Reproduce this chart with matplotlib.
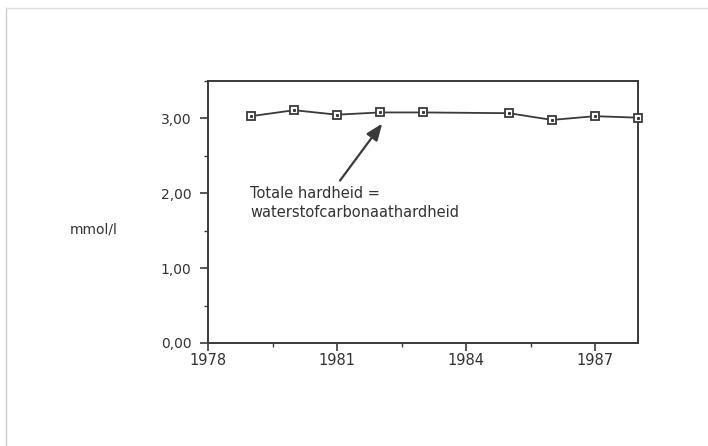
import matplotlib
matplotlib.use("Agg")
import matplotlib.pyplot as plt
from matplotlib.ticker import FuncFormatter, MultipleLocator, FixedLocator
from matplotlib.lines import Line2D

years = [1979, 1980, 1981, 1982, 1983, 1985, 1986, 1987, 1988]
hardness = [3.03, 3.11, 3.05, 3.08, 3.08, 3.07, 2.98, 3.03, 3.01]
x_ticks = [1978, 1981, 1984, 1987]
x_minor = [1979.5, 1982.5, 1985.5]
y_ticks = [0.0, 1.0, 2.0, 3.0]
ylabel = "mmol/l"
note = "Totale hardheid =\nwaterstofcarbonaathardheid"

plt.rcParams['font.family'] = ['DejaVu Sans']
dark = '#3a3a3a'
txt = '#333333'

fig = plt.figure(figsize=(7.08, 4.46), dpi=100)
ax = fig.add_axes([208/708, 1-343/446, (638-208)/708, (343-81)/446])

ax.plot(years, hardness, color=dark, lw=1.3, marker='s', ms=5.5,
        mfc='white', mec=dark, mew=1.3, clip_on=False, zorder=3)
ax.plot(years, hardness, ls='none', marker='s', ms=1.2, mfc=dark, mec=dark,
        clip_on=False, zorder=4)

ax.set_xlim(1978, 1988)
ax.set_ylim(0, 3.5)
ax.set_xticks(x_ticks)
ax.xaxis.set_minor_locator(FixedLocator(x_minor))
ax.set_yticks(y_ticks)
ax.yaxis.set_minor_locator(MultipleLocator(0.5))
ax.yaxis.set_major_formatter(FuncFormatter(lambda v, p: f"{v:.2f}".replace('.', ',')))

for s in ax.spines.values():
    s.set_color(dark)
    s.set_linewidth(1.4)
ax.tick_params(which='major', direction='out', length=6, width=1.2, colors=dark,
               labelcolor=txt, labelsize=10)
ax.tick_params(axis='x', which='major', pad=1, labelsize=10.5)
ax.tick_params(axis='y', which='major', pad=6)
ax.tick_params(which='minor', direction='out', length=3, width=1.0, colors=dark)

ax.text(1978.98, 2.0, note.split("\n")[0], fontsize=10.5, color=txt,
        ha='left', va='center')
ax.text(1978.98, 1.75, note.split("\n")[1], fontsize=10.5, color=txt,
        ha='left', va='center')
ax.annotate('', xy=(1982.05, 2.93), xytext=(1981.07, 2.17),
            arrowprops=dict(arrowstyle='-|>,head_length=1.0,head_width=0.4',
                            color=dark, lw=1.6, shrinkA=0, shrinkB=0))

fig.text(94/708, 1-229/446, ylabel, fontsize=10, color=txt, ha='center', va='center')

# faint outer frame
fig.add_artist(Line2D([6/708, 6/708], [0, 1-8/446], transform=fig.transFigure,
                      color='#cccccc', lw=1))
fig.add_artist(Line2D([6/708, 1], [1-8/446, 1-8/446], transform=fig.transFigure,
                      color='#dddddd', lw=1))

fig.savefig("out.png", dpi=100, facecolor='white')
